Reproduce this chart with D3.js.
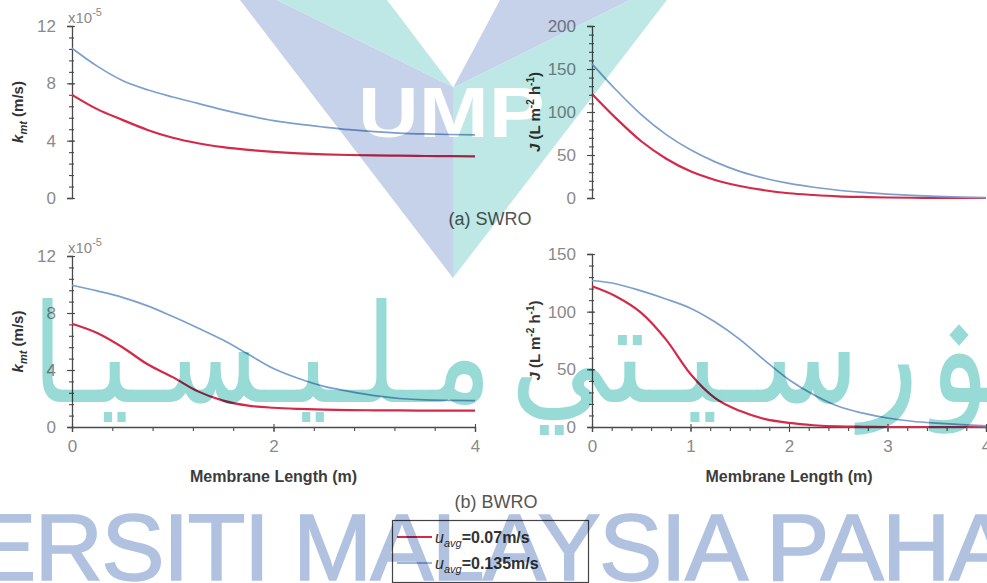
<!DOCTYPE html>
<html>
<head>
<meta charset="utf-8">
<script src="https://cdn.jsdelivr.net/npm/d3@7"></script>
<style>
  html, body { margin: 0; padding: 0; background: #fff; }
  svg { display: block; }
</style>
</head>
<body>
<svg id="fig" width="987" height="583"></svg>
<script>
// Membrane length positions (m) shared by every curve
const lengthM = [0, 0.25, 0.5, 0.75, 1, 1.25, 1.5, 1.75, 2, 2.25, 2.5, 2.75, 3, 3.25, 3.5, 3.75, 4];

// (a) SWRO — mass transfer coefficient k_mt (x10^-5 m/s)
const swroKmtSlow = [7.2, 6.2, 5.45, 4.75, 4.2, 3.82, 3.55, 3.36, 3.22, 3.12, 3.05, 3.0, 2.97, 2.95, 2.93, 2.92, 2.9];
const swroKmtFast = [10.45, 9.2, 8.2, 7.55, 7.05, 6.6, 6.15, 5.75, 5.4, 5.15, 4.95, 4.77, 4.63, 4.53, 4.47, 4.43, 4.4];
// (a) SWRO — permeate flux J (L m^-2 h^-1)
const swroFluxSlow = [121, 92, 66, 46, 31, 21, 14, 9, 5.5, 3.5, 2, 1.2, 0.6, 0.3, 0.1, 0, 0];
const swroFluxFast = [156, 125, 97, 74, 56, 42, 31, 23, 17, 12.5, 9, 6.5, 4.5, 3, 1.8, 1, 0.5];

// (b) BWRO — mass transfer coefficient k_mt (x10^-5 m/s)
const bwroKmtSlow = [7.25, 6.6, 5.6, 4.4, 3.5, 2.5, 1.85, 1.5, 1.35, 1.27, 1.22, 1.19, 1.17, 1.16, 1.15, 1.15, 1.15];
const bwroKmtFast = [9.95, 9.55, 9.1, 8.5, 7.75, 6.95, 6.1, 5.1, 4.1, 3.4, 2.85, 2.5, 2.2, 2.0, 1.9, 1.87, 1.85];
// (b) BWRO — permeate flux J (L m^-2 h^-1)
const bwroFluxSlow = [122, 113, 99, 76, 46, 25, 14, 7, 3.5, 1.5, 0.5, 0.2, 0, 0, 0, 0, 0];
const bwroFluxFast = [127, 124, 118, 111, 103, 91, 76, 58, 41, 28, 18, 12, 7.8, 5, 3.3, 2, 1];

// Axis ticks
const kmtTicks = [0, 4, 8, 12];
const swroFluxTicks = [0, 50, 100, 150, 200];
const bwroFluxTicks = [0, 50, 100, 150];
const kmtLengthTicks = [0, 2, 4];
const fluxLengthTicks = [0, 1, 2, 3, 4];

// Legend entries
const seriesNames = ["=0.07m/s", "=0.135m/s"];
const seriesColors = ["#d42a4a", "#7c9fcd"];

const svg = d3.select("#fig");
svg.append("rect").attr("width", 987).attr("height", 583).attr("fill", "#fff");

const FONT = "'Liberation Sans', Arial, sans-serif";
const AXIS = "#4a4a4a";
const LABEL = "#8a8a8a";
const fmt = d3.format("~g");

function minorValues(max, step) {
  const out = [];
  for (let i = 0; i * step <= max + 1e-9; i++) out.push(+(i * step).toFixed(6));
  return out;
}

function panel(cfg) {
  const x = d3.scaleLinear().domain([0, 4]).range([cfg.x0, cfg.x1]);
  const y = d3.scaleLinear().domain([0, cfg.yMax]).range([cfg.y0, cfg.y1]);
  const g = svg.append("g");

  // y axis: minor ticks crossing the spine, then labelled major ticks
  const yMinor = g.append("g").attr("transform", `translate(${cfg.x0},0)`)
    .call(d3.axisLeft(y).tickValues(minorValues(cfg.yMax, cfg.yMinor)).tickSize(3).tickFormat(""));
  yMinor.selectAll(".tick line").attr("x2", -3).attr("x1", 2);
  const yMajor = g.append("g").attr("transform", `translate(${cfg.x0},0)`)
    .call(d3.axisLeft(y).tickValues(cfg.yTicks).tickFormat(fmt).tickSize(5).tickPadding(11));
  yMajor.selectAll(".tick line").attr("x1", 3).attr("x2", -5);
  [yMinor, yMajor].forEach(a => {
    a.select(".domain").attr("stroke", AXIS).attr("stroke-width", 1.3);
    a.selectAll(".tick line").attr("stroke", AXIS).attr("stroke-width", 1.1);
  });
  yMajor.selectAll(".tick text").attr("fill", LABEL).attr("font-size", 17).attr("font-family", FONT);
  yMinor.select(".domain").remove();

  if (cfg.xTicks) {
    const xMinor = g.append("g").attr("transform", `translate(0,${cfg.y0})`)
      .call(d3.axisBottom(x).tickValues(minorValues(4, cfg.xMinor)).tickSize(4).tickFormat(""));
    const xMajor = g.append("g").attr("transform", `translate(0,${cfg.y0})`)
      .call(d3.axisBottom(x).tickValues(cfg.xTicks).tickFormat(fmt).tickSize(5).tickPadding(8));
    xMajor.selectAll(".tick line").attr("y1", -3);
    [xMinor, xMajor].forEach(a => {
      a.select(".domain").attr("stroke", AXIS).attr("stroke-width", 1.3);
      a.selectAll(".tick line").attr("stroke", AXIS).attr("stroke-width", 1.1);
    });
    xMinor.select(".domain").remove();
    xMajor.selectAll(".tick text").attr("fill", LABEL).attr("font-size", 17).attr("font-family", FONT);
    g.append("text").attr("x", (cfg.x0 + cfg.x1) / 2).attr("y", cfg.y0 + 55)
      .attr("text-anchor", "middle").attr("font-family", FONT).attr("font-weight", "bold")
      .attr("font-size", 16).attr("fill", "#3c3c3c").text("Membrane Length (m)");
  }

  // y-axis title
  const yc = (cfg.y0 + cfg.y1) / 2;
  const t = g.append("text").attr("transform", `translate(${cfg.titleX},${yc}) rotate(-90)`)
    .attr("text-anchor", "middle").attr("font-family", FONT).attr("font-weight", "bold")
    .attr("font-size", 15).attr("fill", "#333");
  if (cfg.kind === "kmt") {
    t.append("tspan").attr("font-style", "italic").text("k");
    t.append("tspan").attr("font-style", "italic").attr("font-size", 11).attr("dy", 4).text("mt");
    t.append("tspan").attr("dy", -4).text(" (m/s)");
    g.append("text").attr("x", cfg.x0 - 4).attr("y", cfg.y1 - 3)
      .attr("font-family", FONT).attr("font-size", 15).attr("fill", LABEL)
      .text("x10").append("tspan").attr("dy", -7).attr("font-size", 11).text("-5");
  } else {
    t.append("tspan").attr("font-style", "italic").text("J");
    t.append("tspan").text(" (L m");
    t.append("tspan").attr("dy", -6).attr("font-size", 10).text("-2");
    t.append("tspan").attr("dy", 6).text(" h");
    t.append("tspan").attr("dy", -6).attr("font-size", 10).text("-1");
    t.append("tspan").attr("dy", 6).text(")");
  }

  // curves
  const line = d3.line().x((d, i) => x(lengthM[i])).y(d => y(d)).curve(d3.curveMonotoneX);
  cfg.series.forEach((vals, i) => {
    g.append("path").datum(vals).attr("d", line).attr("fill", "none")
      .attr("stroke", seriesColors[i]).attr("stroke-width", i === 0 ? 2.2 : 1.7)
      .attr("stroke-linejoin", "round");
  });
}

panel({ kind: "kmt", x0: 72, x1: 475, y0: 198, y1: 26, yMax: 12, yTicks: kmtTicks, yMinor: 0.8,
        titleX: 23, series: [swroKmtSlow, swroKmtFast] });
panel({ kind: "flux", x0: 592, x1: 986, y0: 198, y1: 26, yMax: 200, yTicks: swroFluxTicks, yMinor: 10,
        titleX: 540, series: [swroFluxSlow, swroFluxFast] });
panel({ kind: "kmt", x0: 72, x1: 475, y0: 427, y1: 256, yMax: 12, yTicks: kmtTicks, yMinor: 0.8,
        xTicks: kmtLengthTicks, xMinor: 0.4, titleX: 23, series: [bwroKmtSlow, bwroKmtFast] });
panel({ kind: "flux", x0: 592, x1: 986, y0: 427, y1: 254, yMax: 150, yTicks: bwroFluxTicks, yMinor: 10,
        xTicks: fluxLengthTicks, xMinor: 0.2, titleX: 540, series: [bwroFluxSlow, bwroFluxFast] });

// sub-figure captions
svg.append("text").attr("x", 490).attr("y", 225).attr("text-anchor", "middle")
  .attr("font-family", FONT).attr("font-size", 18).attr("fill", "#555").text("(a) SWRO");
svg.append("text").attr("x", 496).attr("y", 508).attr("text-anchor", "middle")
  .attr("font-family", FONT).attr("font-size", 18).attr("fill", "#555").text("(b) BWRO");

// legend
const lg = svg.append("g");
lg.append("rect").attr("x", 392.5).attr("y", 520.5).attr("width", 196).attr("height", 62)
  .attr("fill", "#fff").attr("stroke", "#444").attr("stroke-width", 1.2);
seriesNames.forEach((name, i) => {
  const yy = 537 + i * 26;
  lg.append("line").attr("x1", 397).attr("x2", 432).attr("y1", yy).attr("y2", yy)
    .attr("stroke", seriesColors[i]).attr("stroke-width", i === 0 ? 2.2 : 1.7);
  const tx = lg.append("text").attr("x", 435).attr("y", yy + 6).attr("font-family", FONT)
    .attr("font-size", 16).attr("font-weight", "bold").attr("fill", "#333");
  tx.append("tspan").attr("font-style", "italic").attr("font-weight", "normal").text("u");
  tx.append("tspan").attr("font-style", "italic").attr("font-weight", "normal").attr("font-size", 11).attr("dy", 4).text("avg");
  tx.append("tspan").attr("dy", -4).text(name);
});

// university watermark, multiplied over the figure
const defs = svg.append("defs");
const mask = defs.append("mask").attr("id", "umpCut");
mask.append("rect").attr("width", 987).attr("height", 583).attr("fill", "#fff");
mask.append("text").attr("x", 358).attr("y", 137).attr("textLength", 187).attr("lengthAdjust", "spacingAndGlyphs")
  .attr("font-family", FONT).attr("font-weight", "bold").attr("font-size", 70).attr("fill", "#000").text("UMP");

const wm = svg.append("g").style("mix-blend-mode", "multiply");
const logo = wm.append("g").attr("mask", "url(#umpCut)");
const BLUE = "#c6d2ea", TEAL = "#bde8e5";
[
  [[240, 0], [277, 0], [453, 87], [453, 278]],
  [[500, 0], [630, 0], [453, 88]],
].forEach(p => logo.append("polygon").attr("points", p.join(" ")).attr("fill", BLUE));
[
  [[277, 0], [387, 0], [453, 87]],
  [[630, 0], [667, 0], [453, 278], [453, 88]],
].forEach(p => logo.append("polygon").attr("points", p.join(" ")).attr("fill", TEAL));

const AR = "'DejaVu Sans', sans-serif";
const ARC = "#98dad5";
wm.append("text").attr("x", 262).attr("y", 402).attr("text-anchor", "middle").attr("direction", "rtl")
  .attr("textLength", 460).attr("lengthAdjust", "spacingAndGlyphs")
  .attr("font-family", AR).attr("font-size", 137).attr("fill", ARC)
  .text("مـلـيـسـيـا");
wm.append("text").attr("x", 850).attr("y", 402).attr("text-anchor", "middle").attr("direction", "rtl")
  .attr("textLength", 680).attr("lengthAdjust", "spacingAndGlyphs")
  .attr("font-family", AR).attr("font-size", 137).attr("fill", ARC)
  .text("اونيـۏرسـيـتي");

// the line is wider than the page: "UNIV" and "NG" fall outside it
const uni = wm.append("text").attr("y", 580).attr("font-family", FONT).attr("font-size", 95)
  .attr("letter-spacing", -1.8).attr("fill", "#b0c2e0").attr("stroke", "#b0c2e0").attr("stroke-width", 1.5)
  .text("UNIVERSITI MALAYSIA PAHANG");
uni.attr("x", -uni.node().getSubStringLength(0, 4) - 27);
</script>
</body>
</html>
